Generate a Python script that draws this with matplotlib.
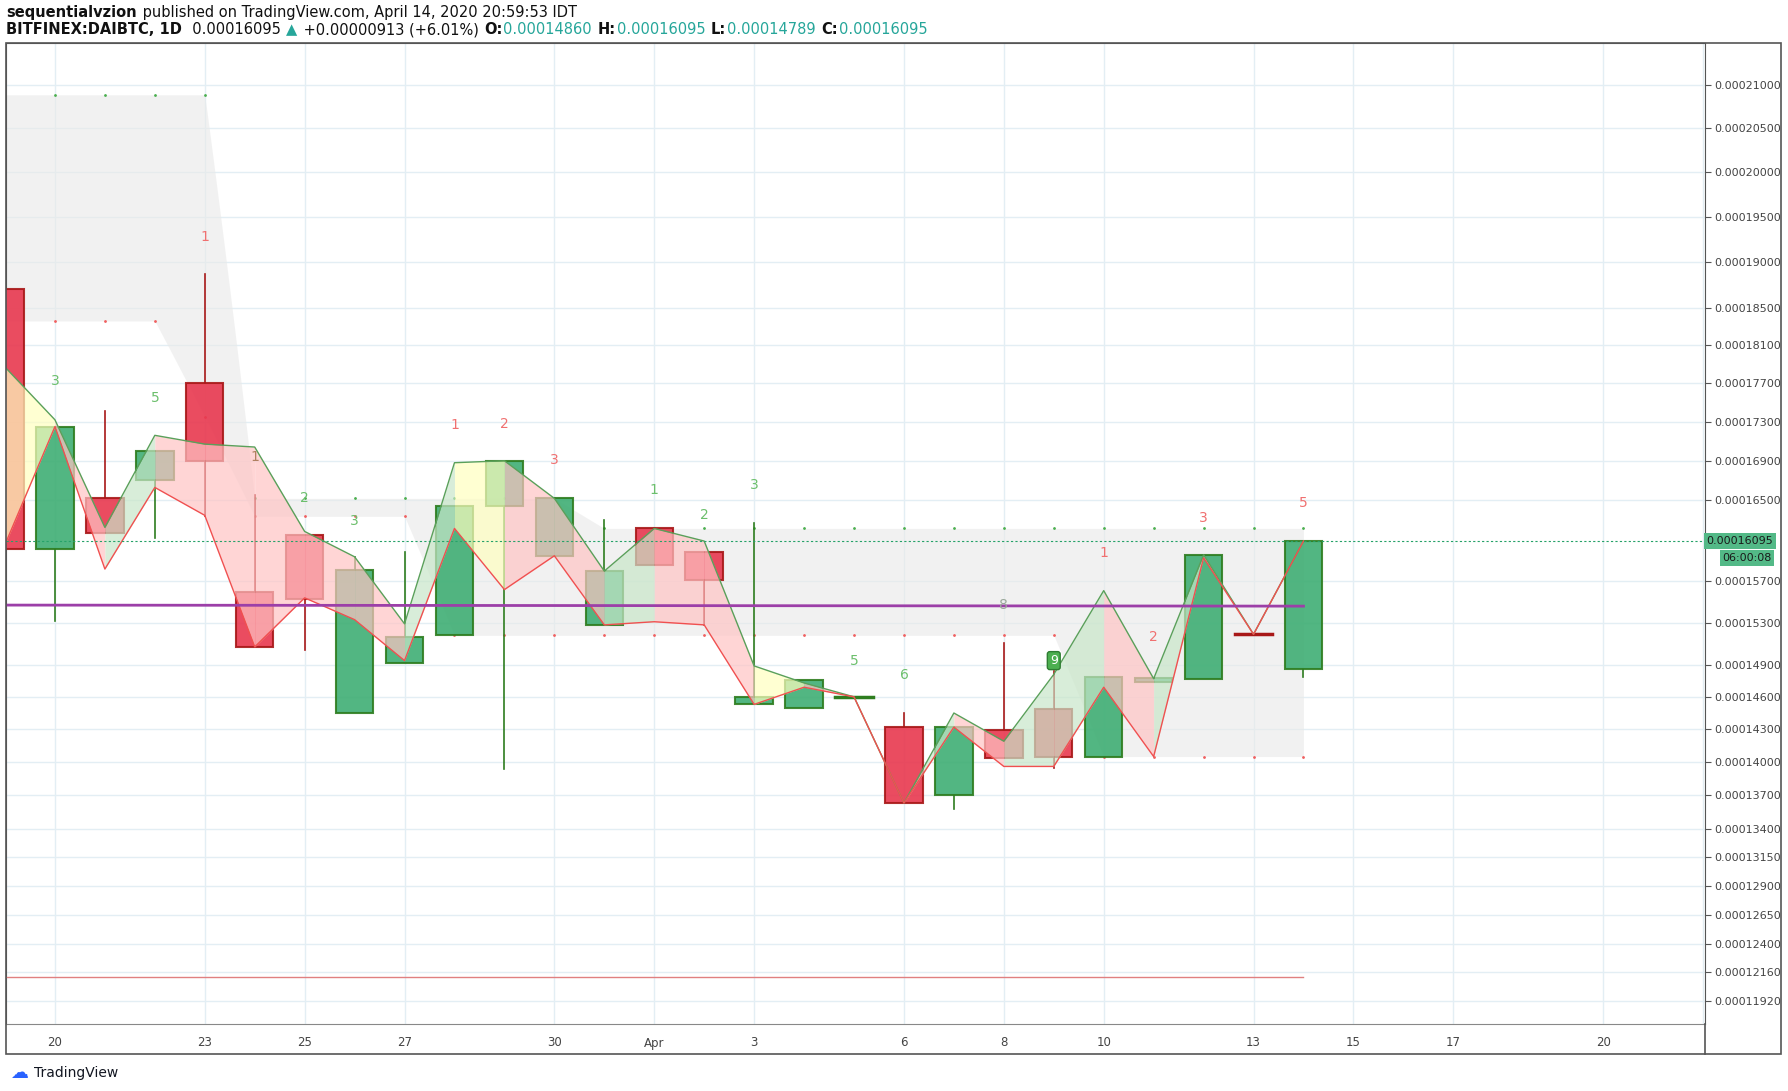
import numpy as np
import matplotlib
matplotlib.use("Agg")
import matplotlib.pyplot as plt
from matplotlib.patches import Rectangle

# ---- data (prices in units of 1e-5 BTC) ----
days = list(range(19, 46))  # Mar 19 .. Apr 14 (Apr d -> 31 + d)
opens  = [18.71, 16.02, 16.52, 16.70, 17.70, 15.60, 16.15, 14.45, 14.92, 15.18, 16.44, 15.95, 15.28,
          16.22, 15.99, 14.53, 14.50, 14.600, 14.32, 13.70, 14.29, 14.49, 14.05, 14.74, 14.77, 15.190, 14.86]
highs  = [18.71, 17.25, 17.41, 17.00, 18.87, 16.55, 16.15, 15.94, 15.99, 16.44, 16.90, 16.52, 16.30,
          16.22, 15.99, 16.27, 14.76, 14.605, 14.45, 14.32, 15.11, 14.84, 14.79, 14.78, 15.96, 15.190, 16.095]
lows   = [16.02, 15.32, 16.17, 16.13, 16.34, 15.07, 15.04, 14.45, 14.92, 15.18, 13.94, 15.95, 15.28,
          15.86, 15.28, 14.53, 14.50, 14.600, 13.63, 13.58, 14.04, 13.95, 14.05, 14.74, 14.77, 15.185, 14.789]
closes = [16.02, 17.25, 16.17, 17.00, 16.90, 15.07, 15.53, 15.81, 15.16, 16.44, 16.90, 16.52, 15.80,
          15.86, 15.71, 14.60, 14.76, 14.605, 13.63, 14.32, 14.04, 14.05, 14.79, 14.78, 15.96, 15.185, 16.095]

green_line = [17.87, 17.32, 16.23, 17.16, 17.07, 17.04, 16.19, 15.94, 15.29, 16.88, 16.90, 16.52, 15.80,
              16.22, 16.095, 14.89, 14.73, 14.60, 13.63, 14.45, 14.19, 14.81, 15.61, 14.77, 15.96, 15.19, 16.095]
red_line   = [16.06, 17.25, 15.82, 16.63, 16.35, 15.07, 15.54, 15.33, 14.94, 16.22, 15.62, 15.95, 15.28,
              15.31, 15.28, 14.53, 14.69, 14.60, 13.63, 14.32, 13.96, 13.96, 14.69, 14.05, 15.93, 15.19, 16.095]
seg_colors = ["y", "p", "g", "p", "p", "p", "p", "p", "g", "y", "p", "p", "g",
              "p", "p", "y", "p", "p", "g", "p", "g", "g", "p", "g", "p", "p"]

band_upper_x = [19, 23, 24, 30, 31, 45]
band_upper_y = [20.89, 20.89, 16.52, 16.52, 16.22, 16.22]
band_lower_x = [19, 22, 24, 27, 28, 40, 41, 45]
band_lower_y = [18.36, 18.36, 16.34, 16.34, 15.18, 15.18, 14.05, 14.05]

purple_level = 15.47
red_level = 12.12

green_counts = [(20, 17.72, "3"), (22, 17.55, "5"), (25, 16.52, "2"), (26, 16.29, "3"), (32, 16.60, "1"),
                (33, 16.35, "2"), (34, 16.65, "3"), (36, 14.94, "5"), (37, 14.80, "6"), (39, 15.47, "8")]
red_counts = [(23, 19.27, "1"), (24, 16.94, "1"), (28, 17.27, "1"), (29, 17.28, "2"), (30, 16.91, "3"),
              (41, 15.98, "1"), (42, 15.16, "2"), (43, 16.32, "3"), (45, 16.47, "5")]
nine_label = (40, 14.94, "9")

y_ticks = [21.0, 20.5, 20.0, 19.5, 19.0, 18.5, 18.1, 17.7, 17.3, 16.9, 16.5, 15.7, 15.3, 14.9, 14.6,
           14.3, 14.0, 13.7, 13.4, 13.15, 12.9, 12.65, 12.4, 12.16, 11.92]
x_tick_days = [20, 23, 25, 27, 30, 32, 34, 37, 39, 41, 44, 46, 48, 51]
x_tick_labels = ["20", "23", "25", "27", "30", "Apr", "3", "6", "8", "10", "13", "15", "17", "20"]
last_price = 16.095

# ---- figure ----
W, H = 1788, 1091
fig = plt.figure(figsize=(W / 100, H / 100), dpi=100)
ax = fig.add_axes([6 / W, 1 - 1024 / H, 1699 / W, 981 / H])

OFF = 10.4
ax.set_yscale("function", functions=(lambda v: np.log(np.maximum(v + OFF, 1e-9)),
                                     lambda v: np.exp(v) - OFF))
ax.set_xlim(19.02, 53.04)
ax.set_ylim(11.73, 21.5)

grid_c = "#e3eef4"
for d in x_tick_days + [53]:
    ax.axvline(d, color=grid_c, lw=1, zorder=0)
for t in y_ticks:
    ax.axhline(t, color=grid_c, lw=1, zorder=0)

# gray setup bands
xs = np.linspace(19, 45, 600)
up = np.interp(xs, band_upper_x, band_upper_y)
lo = np.interp(xs, band_lower_x, band_lower_y)
ax.fill_between(xs, lo, up, color="#e9e9e9", alpha=0.6, lw=0, zorder=1)
for d in days:
    ax.plot(d, np.interp(d, band_upper_x, band_upper_y), ".", ms=2, color="#4caf50", zorder=2)
    ax.plot(d, np.interp(d, band_lower_x, band_lower_y), ".", ms=2, color="#f06060", zorder=2)

# candles
w = 0.75
for d, o, h, l, c in zip(days, opens, highs, lows, closes):
    upc = c >= o
    fc = "#3fae74" if upc else "#e8384f"
    ec = "#2e7d1f" if upc else "#a81818"
    if abs(c - o) < 0.02:
        ax.plot([d - w / 2, d + w / 2], [o, o], color=ec, lw=2.5, zorder=3)
    else:
        ax.add_patch(Rectangle((d - w / 2, min(o, c)), w, abs(c - o), facecolor=fc, alpha=0.9,
                               edgecolor=ec, lw=1.5, zorder=3))
    ax.plot([d, d], [l, min(o, c)], color=ec, lw=1.2, zorder=2.9)
    ax.plot([d, d], [max(o, c), h], color=ec, lw=1.2, zorder=2.9)

# cloud
cmap = {"g": "#c8e6c9", "p": "#ffc4c4", "y": "#ffffc0"}
for i, sc in enumerate(seg_colors):
    xx = [days[i], days[i + 1]]
    ax.fill_between(xx, green_line[i:i + 2], red_line[i:i + 2], color=cmap[sc], alpha=0.7, lw=0, zorder=4)
ax.plot(days, green_line, color="#5aa05a", lw=1, zorder=5)
ax.plot(days, red_line, color="#f05050", lw=1, zorder=5)

ax.plot([19, 45], [purple_level, purple_level - 0.01], color="#9c3fa8", lw=2, zorder=6)
ax.plot([19, 45], [red_level, red_level], color="#e08080", lw=1, zorder=6)
ax.axhline(last_price, color="#26a269", lw=0.8, ls=(0, (2, 2)), zorder=6)

for d, y, t in green_counts:
    ax.text(d, y, t, color="#6cbf6c" if t != "8" else "#9aa89a", fontsize=10, ha="center", va="center", zorder=7)
for d, y, t in red_counts:
    ax.text(d, y, t, color="#f07070" if d != 24 else "#b08060", fontsize=10, ha="center", va="center", zorder=7)
ax.text(nine_label[0], nine_label[1], nine_label[2], color="white", fontsize=9, ha="center", va="center",
        zorder=8, bbox=dict(boxstyle="round,pad=0.2", fc="#4caf50", ec="#2e7d32"))

# axes styling
for s in ["top", "left", "right"]:
    ax.spines[s].set_color("#555555")
ax.spines["bottom"].set_color("#888888")
ax.yaxis.tick_right()
ax.set_yticks(y_ticks)
ax.set_yticklabels([f"{v * 1e-5:.8f}" for v in y_ticks], fontsize=8, color="#444444", family="DejaVu Sans")
ax.tick_params(axis="y", length=4, color="#555555", pad=3)
ax.set_xticks(x_tick_days)
ax.set_xticklabels(x_tick_labels, fontsize=8.5, color="#444444")
ax.tick_params(axis="x", length=0, pad=9)
ax.minorticks_off()

# price tag
ax.text(1.001, last_price, f"{last_price * 1e-5:.8f}", transform=ax.get_yaxis_transform(), fontsize=8,
        color="#1a1a1a", va="center", ha="left", zorder=10,
        bbox=dict(boxstyle="square,pad=0.25", fc="#53b987", ec="none"))
fig.text(1747 / W, 1 - 558 / H, "06:00:08", fontsize=8, color="#1a1a1a", ha="center", va="center",
         bbox=dict(boxstyle="square,pad=0.25", fc="#53b987", ec="none"))

# outer frame
fig.add_artist(Rectangle((6 / W, 1 - 1054 / H), 1775 / W, 1011 / H, transform=fig.transFigure,
                         fill=False, ec="#555555", lw=1.2))
fig.add_artist(plt.Line2D([1705 / W, 1705 / W], [1 - 1054 / H, 1 - 1024 / H], transform=fig.transFigure,
                          color="#555555", lw=1.2))

fam = "Liberation Sans Narrow"
fig.canvas.draw()
r = fig.canvas.get_renderer()

def run_text(parts, ypix, xstart=6):
    xpos = xstart
    for t, c, b in parts:
        tt = fig.text(xpos / W, 1 - ypix / H, t, fontsize=10.5, color=c, weight="bold" if b else "normal",
                      family=fam, va="center")
        xpos += tt.get_window_extent(r).width + 1

run_text([("sequentialvzion", "#111111", True),
          (" published on TradingView.com, April 14, 2020 20:59:53 IDT", "#111111", False)], 13)
run_text([("BITFINEX:DAIBTC, 1D", "#111111", True), ("  0.00016095 ", "#111111", False), ("\u25B2", "#26a69a", False),
          (" +0.00000913 (+6.01%) ", "#111111", False), ("O:", "#111111", True), ("0.00014860 ", "#26a69a", False),
          ("H:", "#111111", True), ("0.00016095 ", "#26a69a", False), ("L:", "#111111", True),
          ("0.00014789 ", "#26a69a", False), ("C:", "#111111", True), ("0.00016095", "#26a69a", False)], 30)
fig.text(34 / W, 1 - 1073 / H, "TradingView", fontsize=10, family=fam, va="center", color="#131722")
fig.text(10 / W, 1 - 1073 / H, "\u2601", fontsize=13, color="#2962ff", va="center")

fig.savefig("out.png", dpi=100)
